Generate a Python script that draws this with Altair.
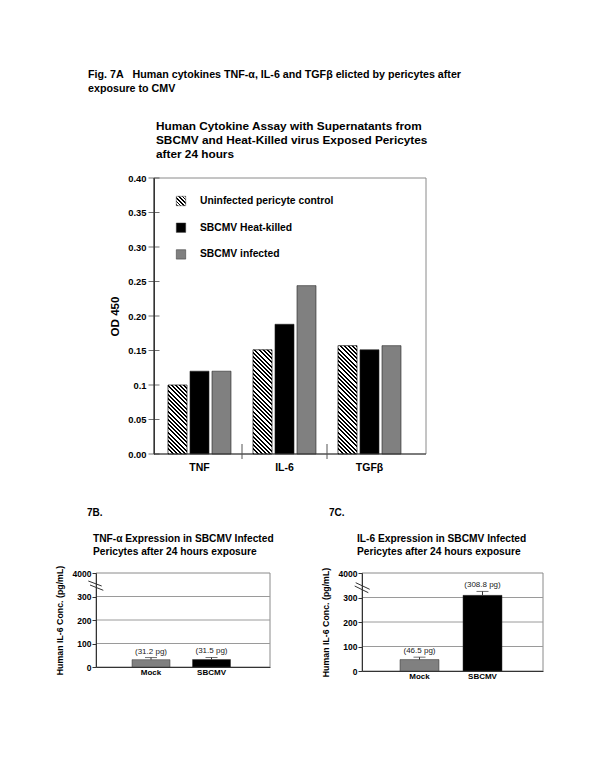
import math
import altair as alt
import pandas as pd

FONT = "Liberation Sans"

# ---------------- data ----------------
groups = ["TNF", "IL-6", "TGFβ"]
series = ["Uninfected pericyte control", "SBCMV Heat-killed", "SBCMV infected"]
od_uninfected = [0.100, 0.151, 0.157]
od_heat_killed = [0.120, 0.188, 0.151]
od_infected = [0.120, 0.244, 0.157]
od_ticks = [0.0, 0.05, 0.1, 0.15, 0.2, 0.25, 0.3, 0.35, 0.4]

tnf_cats = ["Mock", "SBCMV"]
tnf_values = [31.2, 31.5]
tnf_errors = [9.0, 9.0]
tnf_labels = ["(31.2 pg)", "(31.5 pg)"]

il6_cats = ["Mock", "SBCMV"]
il6_values = [46.5, 308.8]
il6_errors = [10.0, 16.0]
il6_labels = ["(46.5 pg)", "(308.8 pg)"]

conc_ticks = [0, 100, 200, 300, 400]
conc_grid = [100, 200, 300]

header = ["Fig. 7A\u00a0\u00a0\u00a0Human cytokines TNF-\u03b1, IL-6 and TGF\u03b2 elicted by pericytes after",
          "exposure to CMV"]
main_title = ["Human Cytokine Assay with Supernatants from",
              "SBCMV and Heat-Killed virus Exposed Pericytes",
              "after 24 hours"]
tnf_title = ["TNF-\u03b1 Expression in SBCMV Infected", "Pericytes after 24 hours exposure"]
il6_title = ["IL-6 Expression in SBCMV Infected", "Pericytes after 24 hours exposure"]
conc_axis_title = "Human IL-6 Conc. (pg/mL)"

# styles
series_colors = {series[1]: "#000000", series[2]: "#808080"}
panel_colors = {"Mock": "#808080", "SBCMV": "#000000"}

ONE = pd.DataFrame({"k": [0]})


def note(text, x, y, size, weight="bold", align="left", color="#000000"):
    return alt.Chart(pd.DataFrame({"t": [text]})).mark_text(
        font=FONT, fontSize=size, fontWeight=weight, align=align,
        baseline="middle", color=color
    ).encode(text="t:N", x=alt.value(x), y=alt.value(y))


def hatch(W, H, period=4.2, frac=0.45, ink="#000000", paper="#ffffff"):
    """Diagonal '\\' stripes as a hard-stop linear gradient in a WxH box."""
    L = W + H
    s = L / (W * W + H * H)
    stops = []
    k = 0
    while k * period < L:
        a = k * period / L
        b = min((k + frac) * period / L, 1.0)
        c = min((k + 1) * period / L, 1.0)
        stops += [(a, ink), (b, ink), (b, paper), (c, paper)]
        k += 1
    return {"gradient": "linear", "x1": 0, "y1": 1, "x2": s * W, "y2": 1 - s * H,
            "stops": [{"offset": round(o, 5), "color": col} for o, col in stops]}


def diag(x1, y1, x2, y2, color="#333333"):
    return alt.Chart(ONE).mark_rule(color=color, strokeWidth=1).encode(
        x=alt.value(x1), y=alt.value(y1), x2=alt.value(x2), y2=alt.value(y2))


# ---------------- main chart (7A) ----------------
MW, MH = 330, 276
X0 = 58           # plot frame left, inside the group
YMAX = 0.4
STEP = 85.0
PO = (MW - 3 * STEP) / (2 * STEP)
ALIGN = (X0 + 3.0) / (MW - 3 * STEP)
SUB_PI, SUB_PO = 0.136, 0.5
BAR_W = STEP / (3 - SUB_PI + 2 * SUB_PO) * (1 - SUB_PI)

rows = []
for gi, g in enumerate(groups):
    for s, vals in zip(series, [od_uninfected, od_heat_killed, od_infected]):
        rows.append({"group": g, "series": s, "od": vals[gi]})
df = pd.DataFrame(rows)

x_scale = alt.Scale(domain=groups, paddingInner=0, paddingOuter=PO, align=ALIGN)
x_axis = alt.Axis(title=None, ticks=False, domain=False, labelAngle=0, labelFont=FONT,
                  labelFontSize=10.5, labelFontWeight="bold", labelColor="#000",
                  labelPadding=8)
x_enc = alt.X("group:N", sort=groups, scale=x_scale, axis=x_axis)
xo_enc = alt.XOffset("series:N", sort=series,
                     scale=alt.Scale(domain=series, paddingInner=SUB_PI, paddingOuter=SUB_PO))
y_scale = alt.Scale(domain=[0, YMAX], nice=False)
y_axis = alt.Axis(values=od_ticks,
                  labelExpr="datum.value == 0.1 ? '0.1' : format(datum.value, '.2f')",
                  title="OD 450", titleFont=FONT, titleFontSize=11.6, titleFontWeight="bold",
                  titleColor="#000", titlePadding=7, labelFont=FONT, labelFontSize=9.4,
                  labelFontWeight="bold", labelColor="#000", labelPadding=8,
                  ticks=False, tickSize=0, grid=False, domainColor="#333333",
                  offset=-X0, zindex=1)
y_enc = alt.Y("od:Q", scale=y_scale, axis=y_axis)

frame = alt.Chart(ONE).mark_rect(filled=False, stroke="#8a8a8a", strokeWidth=1).encode(
    x=alt.value(X0), x2=alt.value(MW), y=alt.value(0), y2=alt.value(MH))
bottom_line = alt.Chart(ONE).mark_rule(color="#333333", strokeWidth=1).encode(
    x=alt.value(X0), x2=alt.value(MW), y=alt.value(MH))
left_line = alt.Chart(ONE).mark_rule(color="#333333", strokeWidth=1).encode(
    x=alt.value(X0), y=alt.value(0), y2=alt.value(MH))

solid_df = df[df["series"] != series[0]].copy()
solid_df["fill"] = solid_df["series"].map(series_colors)
solid = alt.Chart(solid_df).mark_bar(stroke="#222222", strokeWidth=0.6).encode(
    x=x_enc, xOffset=xo_enc, y=y_enc, fill=alt.Fill("fill:N", scale=None))

hatched = []
for g, v in zip(groups, od_uninfected):
    H = v / YMAX * MH
    d = df[(df["group"] == g) & (df["series"] == series[0])]
    hatched.append(alt.Chart(d).mark_bar(fill=hatch(BAR_W, H), stroke="#111111", strokeWidth=0.7)
                   .encode(x=x_enc, xOffset=xo_enc, y=y_enc))

seps = alt.Chart(pd.DataFrame({"group": groups[1:]})).mark_rule(color="#555555", strokeWidth=1).encode(
    x=alt.X("group:N", sort=groups, scale=x_scale, axis=x_axis, bandPosition=0),
    y=alt.value(MH - 10), y2=alt.value(MH + 5))

yticks = alt.Chart(pd.DataFrame({"od": od_ticks})).mark_tick(
    orient="horizontal", size=11, thickness=1, color="#333333").encode(
    y=y_enc, x=alt.value(X0))

legend_layers = []
legend_fills = [hatch(9.4, 9.4, period=3.6), "#000000", "#808080"]
for i, (s, f) in enumerate(zip(series, legend_fills)):
    yc = 23 + 26.7 * i
    legend_layers.append(alt.Chart(ONE).mark_rect(fill=f, stroke="#333333", strokeWidth=0.5).encode(
        x=alt.value(80.3), x2=alt.value(89.7), y=alt.value(yc - 4.7), y2=alt.value(yc + 4.7)))
    legend_layers.append(note(s, 104, yc, 10.3))

main_notes = [note(header[0], -8, -103, 10.7), note(header[1], -8, -89, 10.7)]
for i, line in enumerate(main_title):
    main_notes.append(note(line, 60, -52 + 14 * i, 11.8))

main = alt.layer(frame, solid, *hatched, bottom_line, left_line, seps, yticks,
                 *legend_layers, *main_notes).properties(width=MW, height=MH)


# ---------------- bottom panels (7B, 7C) ----------------
def panel(cats, vals, errs, labels, title_lines, tag, width, height, pi, po, align,
          tag_x, title_x, title_y, breaks):
    d = pd.DataFrame({"cat": cats, "val": vals,
                      "top": [v + e for v, e in zip(vals, errs)], "lab": labels})
    d["fill"] = d["cat"].map(panel_colors)
    xs = alt.Scale(domain=cats, paddingInner=pi, paddingOuter=po, align=align)
    xa = alt.Axis(title=None, ticks=False, labelAngle=0, labelFont=FONT, labelFontSize=8,
                  labelFontWeight="bold", labelColor="#000", labelPadding=1,
                  domainColor="#333333", zindex=1)
    x = alt.X("cat:N", sort=cats, scale=xs, axis=xa)
    ys = alt.Scale(domain=[0, 400], nice=False)
    ya = alt.Axis(values=conc_ticks, labelExpr="datum.value == 400 ? '4000' : datum.label",
                  title=conc_axis_title, titleFont=FONT, titleFontSize=8.8,
                  titleFontWeight="bold", titleColor="#000", titlePadding=8,
                  labelFont=FONT, labelFontSize=8.5, labelFontWeight="bold", labelColor="#000",
                  labelPadding=1, tickSize=4, tickColor="#333333", domainColor="#333333",
                  grid=False, zindex=1)
    y = alt.Y("val:Q", scale=ys, axis=ya)
    y_top = alt.Y("top:Q", scale=ys, axis=ya)

    pframe = alt.Chart(ONE).mark_rect(filled=False, stroke="#8a8a8a", strokeWidth=1).encode(
        x=alt.value(0), x2=alt.value(width), y=alt.value(0), y2=alt.value(height))
    grid = alt.Chart(pd.DataFrame({"val": conc_grid})).mark_rule(color="#9a9a9a", strokeWidth=1).encode(
        y=y, x=alt.value(0), x2=alt.value(width))
    base = alt.Chart(d)
    bars = base.mark_bar(stroke="#333333", strokeWidth=0.5).encode(
        x=x, y=y, fill=alt.Fill("fill:N", scale=None))
    err = base.mark_rule(color="#333333", strokeWidth=1).encode(x=x, y=y, y2="top:Q")
    cap = base.mark_tick(orient="horizontal", size=12, thickness=1, color="#333333").encode(
        x=x, y=y_top)
    lab = base.mark_text(font=FONT, fontSize=8, baseline="bottom", dy=-2, color="#222222").encode(
        x=x, y=y_top, text="lab:N")
    notes = [note(tag, tag_x, -60, 10)]
    for i, line in enumerate(title_lines):
        notes.append(note(line, title_x, title_y + 12.5 * i, 10.2))
    brk = [diag(*b) for b in breaks]
    return alt.layer(pframe, grid, bars, err, cap, lab, *brk, *notes).properties(
        width=width, height=height)


panel_b = panel(tnf_cats, tnf_values, tnf_errors, tnf_labels, tnf_title, "7B.",
                174, 94, 0.372, 0.624, 0.477, -9, -3, -34,
                [(-7.7, 8, 5.7, 13), (-6, 12, 7.3, 17.3)])
panel_c = panel(il6_cats, il6_values, il6_errors, il6_labels, il6_title, "7C.",
                181, 98, 0.381, 0.627, 0.481, -33, -5, -34,
                [(-6.3, 9.7, 7.7, 16.3), (-7.3, 13, 6.3, 19.7)])

bottom = alt.hconcat(panel_b, panel_c, spacing=47)

chart = alt.vconcat(main, bottom, spacing=35).properties(
    padding={"left": 47, "top": 61, "right": 5, "bottom": 5}
).configure_view(stroke=None)

chart.save("out.html", embed_options={"renderer": "svg", "actions": False})
